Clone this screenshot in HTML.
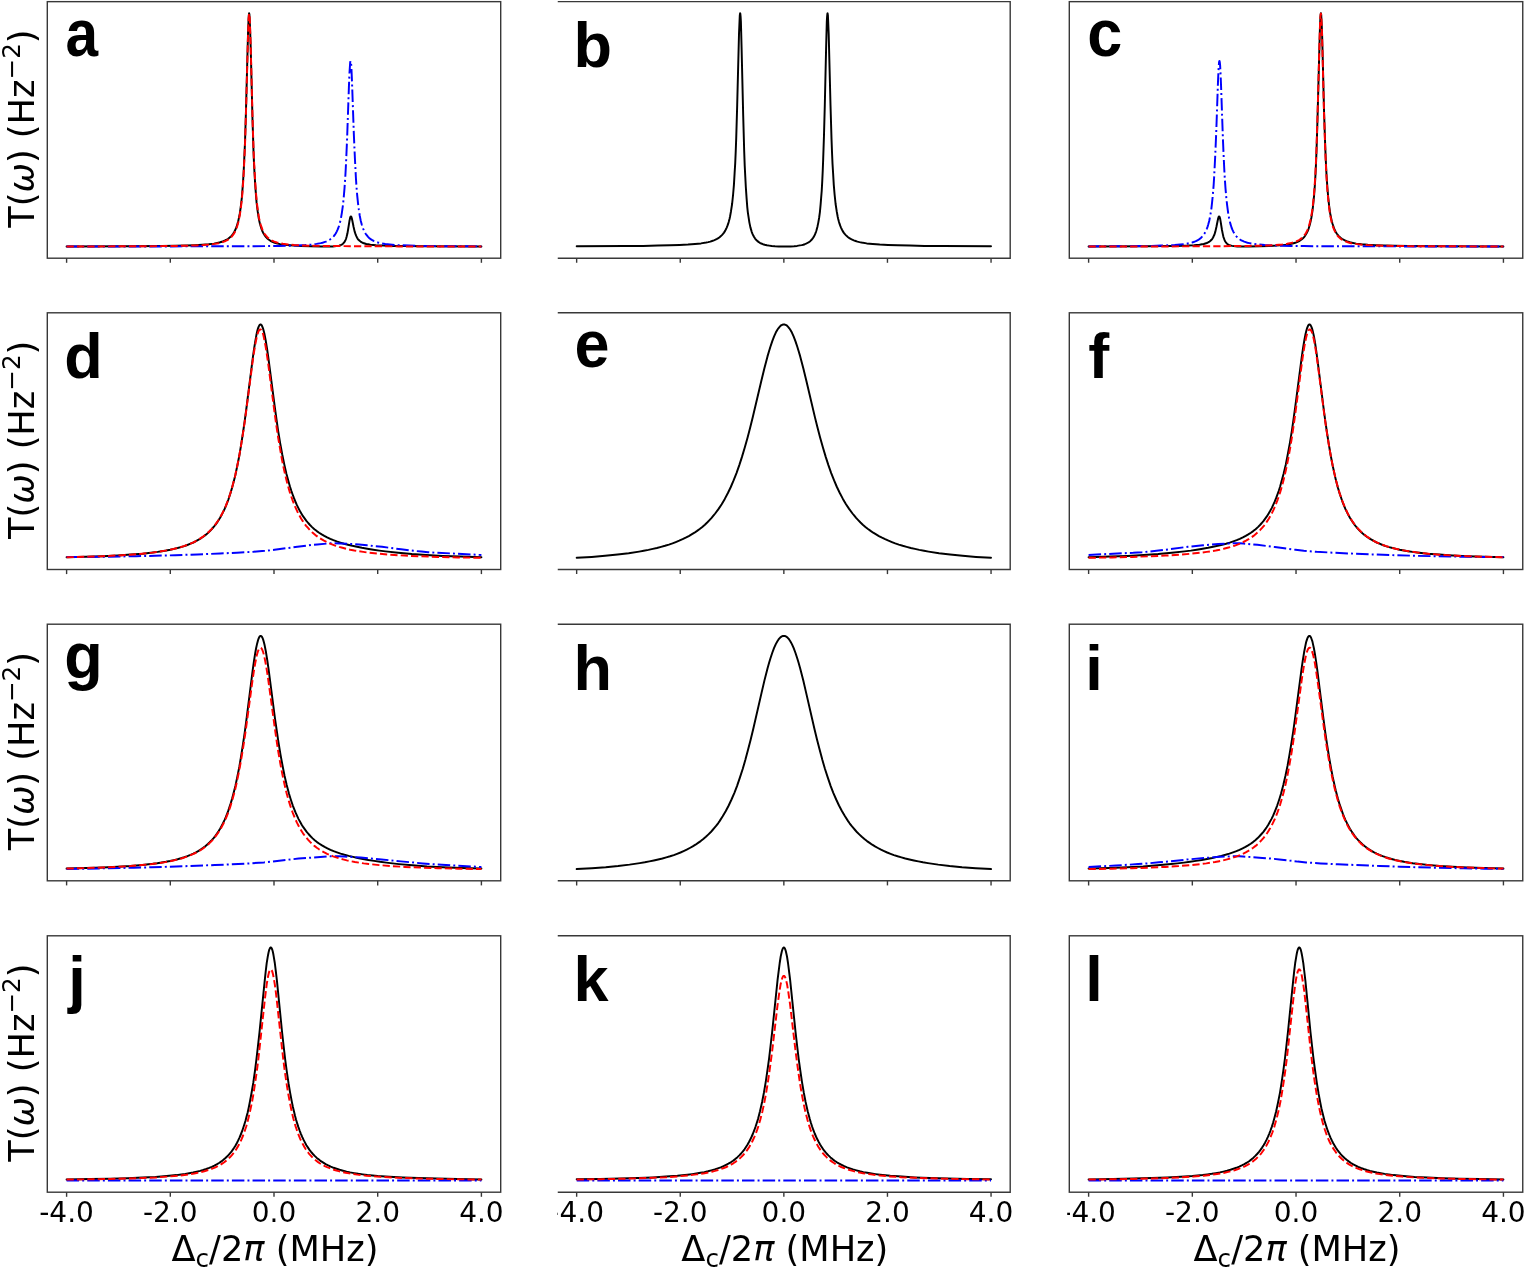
<!DOCTYPE html><html><head><meta charset="utf-8"><style>html,body{margin:0;padding:0;background:#fff;}svg{display:block}</style></head><body>
<svg width="1525" height="1268" viewBox="0 0 1525 1268">
<rect width="100%" height="100%" fill="#fff"/>
<defs>
<clipPath id="cl1"><rect x="557.5" y="0" width="967.5" height="1268"/></clipPath>
<clipPath id="cl2"><rect x="1067.2" y="0" width="457.79999999999995" height="1268"/></clipPath>
</defs>
<g>
<svg x="47.3" y="1.65" width="453.4" height="256.55" viewBox="47.3 1.65 453.4 256.55" overflow="hidden">
<polyline points="66.6,246.4 125.4,246.3 162.0,246.0 175.2,245.8 186.1,245.5 194.9,245.2 202.2,244.8 208.7,244.3 213.9,243.6 218.3,242.7 220.1,242.3 221.9,241.7 223.4,241.2 225.0,240.5 226.6,239.7 227.9,239.0 229.1,238.0 230.2,237.1 231.2,236.1 232.3,234.9 233.3,233.5 234.1,232.2 235.1,230.3 235.9,228.5 236.7,226.4 237.4,224.0 238.2,221.2 238.7,218.9 239.8,213.5 240.8,206.5 241.9,197.1 242.6,187.9 243.4,176.3 243.9,166.8 244.4,155.6 245.0,142.5 246.0,109.8 247.6,49.1 248.1,31.0 248.6,18.3 248.9,14.7 249.1,13.3 249.4,14.2 249.6,17.3 250.1,29.5 250.7,47.5 252.5,119.4 253.5,151.1 254.0,163.6 254.6,174.2 255.1,183.2 255.9,194.1 256.6,202.7 257.7,211.4 258.7,218.0 259.2,220.6 260.0,224.0 260.8,226.7 261.6,229.1 262.3,231.0 263.1,232.7 263.9,234.1 264.9,235.7 266.0,237.1 267.0,238.2 268.6,239.5 270.4,240.8 272.4,241.8 274.8,242.8 277.4,243.5 280.2,244.1 283.6,244.7 287.2,245.1 293.4,245.6 301.0,246.0 310.6,246.3 321.2,246.5 327.9,246.5 332.8,246.4 336.5,246.1 337.8,245.9 339.1,245.6 340.1,245.3 341.1,244.9 342.2,244.3 343.0,243.7 343.7,242.9 344.3,242.3 345.0,241.0 345.6,239.9 346.1,238.5 346.6,236.8 347.4,233.6 348.1,229.5 349.4,221.3 350.0,218.5 350.2,217.5 350.5,216.8 350.7,216.4 351.0,216.4 351.3,216.7 351.5,217.3 351.8,218.2 352.3,220.5 353.6,227.0 354.6,231.4 355.7,234.7 356.2,235.9 357.0,237.5 357.7,238.8 358.5,239.8 359.6,240.8 360.6,241.6 361.9,242.4 363.2,243.0 364.7,243.5 366.3,244.0 368.1,244.3 370.4,244.7 375.9,245.2 383.1,245.6 392.7,245.9 405.7,246.1 423.6,246.2 481.4,246.4" stroke="#000" stroke-width="1.96" fill="none" stroke-linecap="round" stroke-linejoin="round"/>
<polyline points="66.6,246.5 170.8,246.4 229.9,246.3 266.2,246.1 278.9,245.9 289.3,245.7 298.1,245.4 305.4,245.0 311.3,244.5 316.5,243.9 320.7,243.1 322.5,242.7 324.3,242.1 325.9,241.6 327.4,240.9 328.7,240.3 330.0,239.5 331.3,238.5 332.6,237.4 333.6,236.3 334.7,235.0 335.7,233.5 336.7,231.6 337.5,229.9 338.3,228.0 339.1,225.7 339.6,223.9 340.4,220.8 340.9,218.4 341.9,212.6 343.0,204.9 343.7,197.6 344.5,188.4 345.3,176.9 345.8,167.7 346.3,157.2 347.1,138.6 348.9,87.1 349.4,74.3 350.0,65.1 350.2,62.3 350.5,61.0 350.7,61.2 351.0,62.8 351.3,65.8 351.5,70.1 352.0,81.6 353.8,133.1 354.9,158.3 355.9,177.8 356.4,185.6 357.2,195.3 358.0,203.1 358.8,209.4 359.8,216.0 360.8,221.0 361.9,225.0 362.4,226.6 363.2,228.8 364.0,230.6 364.7,232.2 365.5,233.5 366.3,234.7 367.1,235.7 368.1,236.9 368.9,237.7 369.9,238.6 371.0,239.3 372.3,240.1 373.6,240.8 374.8,241.4 376.4,242.0 378.0,242.5 381.3,243.3 385.2,244.0 389.9,244.5 395.3,245.0 401.6,245.3 409.1,245.6 418.4,245.9 443.0,246.2 481.4,246.4" stroke="#00f" stroke-width="1.96" fill="none" stroke-dasharray="12.5 3.1 1.96 3.1" stroke-linejoin="round"/>
<polyline points="66.6,246.5 127.5,246.3 164.1,246.1 177.0,245.9 187.7,245.7 196.2,245.4 203.2,245.1 209.2,244.6 214.4,243.9 218.8,243.2 220.6,242.7 222.4,242.2 224.0,241.6 225.5,241.0 226.8,240.3 228.1,239.6 229.4,238.7 230.4,237.8 231.5,236.8 232.5,235.6 233.6,234.2 234.6,232.5 235.4,230.9 236.1,229.2 236.9,227.1 237.4,225.5 238.2,222.7 238.7,220.5 239.8,215.3 240.8,208.4 241.9,199.2 242.6,190.2 243.4,178.7 243.9,169.3 244.4,158.2 245.0,145.2 246.0,112.6 248.1,32.7 248.6,19.3 248.9,15.3 249.1,13.6 249.4,14.1 249.6,16.8 249.9,21.7 250.1,28.3 250.7,45.7 252.5,116.7 253.5,148.3 254.0,160.9 254.6,171.5 255.1,180.6 255.9,191.7 256.6,200.4 257.7,209.3 258.7,216.0 259.2,218.7 260.0,222.1 260.8,225.0 261.6,227.4 262.3,229.4 263.1,231.2 263.9,232.7 264.9,234.3 266.0,235.7 267.3,237.2 268.3,238.1 269.6,239.1 270.9,240.0 272.2,240.7 273.7,241.4 275.3,242.0 276.9,242.5 278.7,242.9 282.8,243.8 288.0,244.5 294.2,245.0 301.7,245.4 310.3,245.7 320.9,245.9 350.7,246.2 398.4,246.4 481.4,246.5" stroke="#f00" stroke-width="1.96" fill="none" stroke-dasharray="7.25 3.14" stroke-linejoin="round"/>
</svg>
<rect x="47.3" y="1.65" width="453.4" height="256.55" stroke="#383838" stroke-width="1.4" fill="none"/>
<line x1="66.6" y1="258.2" x2="66.6" y2="262.8" stroke="#383838" stroke-width="1.4"/>
<line x1="170.3" y1="258.2" x2="170.3" y2="262.8" stroke="#383838" stroke-width="1.4"/>
<line x1="274" y1="258.2" x2="274" y2="262.8" stroke="#383838" stroke-width="1.4"/>
<line x1="377.7" y1="258.2" x2="377.7" y2="262.8" stroke="#383838" stroke-width="1.4"/>
<line x1="481.4" y1="258.2" x2="481.4" y2="262.8" stroke="#383838" stroke-width="1.4"/>
<text transform="translate(65.44,56.13) scale(0.93,1.06)" font-family="Liberation Sans, Arial, sans-serif" font-weight="bold" font-size="63">a</text>
<text transform="translate(33.9,128.62) rotate(-90)" font-family="DejaVu Sans, sans-serif" font-size="35.2" text-anchor="middle">T(<tspan font-style="italic">ω</tspan>) (Hz<tspan font-size="24.6" dy="-14">−2</tspan><tspan dy="14">)</tspan></text>
</g>
<g clip-path="url(#cl1)">
<svg x="557.5" y="1.65" width="452.7" height="256.55" viewBox="557.5 1.65 452.7 256.55" overflow="hidden">
<polyline points="576.7,246.3 625.3,246.0 643.2,245.9 657.7,245.6 669.9,245.3 679.7,245.0 688.0,244.6 695.0,244.0 701.0,243.4 706.2,242.5 708.2,242.1 710.3,241.6 712.1,241.0 713.9,240.4 715.5,239.7 717.0,238.9 718.3,238.1 719.6,237.2 720.9,236.1 721.9,235.1 723.0,233.9 724.0,232.6 725.1,230.9 725.8,229.5 726.6,227.8 727.4,225.9 728.2,223.7 728.7,222.0 729.5,219.0 730.0,216.7 731.0,211.2 732.1,204.0 733.1,194.5 733.9,185.1 734.6,173.2 735.2,163.5 735.7,152.0 736.2,138.6 737.2,104.9 739.0,34.1 739.6,19.7 739.8,15.4 740.1,13.3 740.3,13.7 740.6,16.6 740.9,21.9 741.1,29.2 741.6,48.5 743.2,115.8 744.2,151.5 744.7,165.4 745.3,177.0 745.8,186.7 746.6,198.4 747.3,207.3 747.8,212.1 748.4,216.2 749.4,222.6 750.4,227.4 751.0,229.4 751.7,231.8 752.5,233.9 753.3,235.6 754.1,237.0 755.1,238.6 756.1,239.8 757.2,240.9 758.5,241.9 759.8,242.8 761.3,243.5 762.9,244.2 764.7,244.7 766.8,245.2 769.1,245.6 771.7,246.0 775.0,246.3 778.7,246.4 782.6,246.5 786.7,246.5 790.6,246.4 794.0,246.2 797.1,245.9 799.9,245.4 801.7,245.1 803.3,244.7 804.8,244.2 806.1,243.7 807.4,243.0 808.5,242.4 809.5,241.7 810.5,240.9 811.6,239.8 812.3,238.9 813.1,237.8 813.9,236.6 814.7,235.0 815.2,233.9 816.0,231.8 816.5,230.3 817.5,226.4 818.3,222.6 819.1,218.0 819.9,212.1 820.6,204.6 821.1,198.4 821.7,191.0 822.2,182.1 822.7,171.5 823.2,158.7 824.0,135.0 824.8,105.3 826.1,48.5 826.6,29.2 826.8,21.9 827.1,16.6 827.4,13.7 827.6,13.3 827.9,15.4 828.1,19.7 828.7,34.1 830.5,104.9 831.5,138.6 832.0,152.0 832.5,163.5 833.1,173.2 833.8,185.1 834.6,194.5 835.6,204.0 836.7,211.2 837.7,216.7 838.2,219.0 839.0,222.0 839.5,223.7 840.3,225.9 841.1,227.8 841.9,229.5 842.6,230.9 843.7,232.6 844.7,233.9 845.8,235.1 846.8,236.1 848.1,237.2 849.4,238.1 850.7,238.9 852.2,239.7 853.8,240.4 855.6,241.0 857.4,241.6 859.5,242.1 861.5,242.5 866.7,243.4 872.7,244.0 879.7,244.6 888.0,245.0 897.8,245.3 910.0,245.6 924.5,245.9 942.4,246.0 991.0,246.3" stroke="#000" stroke-width="1.96" fill="none" stroke-linecap="round" stroke-linejoin="round"/>
</svg>
<path d="M557.5,1.65H1010.2V258.2H557.5" stroke="#383838" stroke-width="1.4" fill="none" stroke-linejoin="miter"/>
<line x1="576.65" y1="258.2" x2="576.65" y2="262.8" stroke="#383838" stroke-width="1.4"/>
<line x1="680.25" y1="258.2" x2="680.25" y2="262.8" stroke="#383838" stroke-width="1.4"/>
<line x1="783.85" y1="258.2" x2="783.85" y2="262.8" stroke="#383838" stroke-width="1.4"/>
<line x1="887.45" y1="258.2" x2="887.45" y2="262.8" stroke="#383838" stroke-width="1.4"/>
<line x1="991.05" y1="258.2" x2="991.05" y2="262.8" stroke="#383838" stroke-width="1.4"/>
<text transform="translate(573.5,67.15) scale(1.0,1.0)" font-family="Liberation Sans, Arial, sans-serif" font-weight="bold" font-size="63">b</text>
</g>
<g clip-path="url(#cl2)">
<svg x="1069.3" y="1.65" width="453.45" height="256.55" viewBox="1069.3 1.65 453.45 256.55" overflow="hidden">
<polyline points="1088.6,246.4 1146.4,246.2 1164.3,246.1 1177.3,245.9 1186.9,245.6 1194.1,245.2 1199.6,244.7 1201.9,244.3 1203.7,244.0 1205.3,243.5 1206.8,243.0 1208.1,242.4 1209.4,241.6 1210.5,240.8 1211.5,239.8 1212.3,238.8 1213.1,237.5 1213.8,235.9 1214.4,234.7 1215.4,231.4 1216.4,227.0 1217.7,220.5 1218.2,218.2 1218.5,217.3 1218.8,216.7 1219.0,216.4 1219.3,216.4 1219.5,216.8 1219.8,217.5 1220.1,218.5 1220.6,221.3 1221.9,229.5 1222.7,233.6 1223.4,236.8 1224.0,238.5 1224.5,239.9 1225.0,241.0 1225.8,242.3 1226.3,242.9 1227.1,243.7 1227.8,244.3 1228.9,244.9 1229.9,245.3 1231.0,245.6 1232.2,245.9 1233.5,246.1 1237.2,246.4 1242.1,246.5 1248.8,246.5 1259.5,246.3 1269.1,246.0 1276.6,245.6 1282.8,245.1 1286.4,244.7 1289.8,244.1 1292.7,243.5 1295.2,242.8 1297.6,241.8 1299.7,240.8 1301.5,239.5 1303.0,238.2 1304.1,237.1 1305.1,235.7 1306.1,234.1 1306.9,232.7 1307.7,231.0 1308.5,229.1 1309.2,226.7 1310.0,224.0 1310.8,220.6 1311.3,218.0 1312.4,211.4 1313.4,202.7 1314.2,194.1 1315.0,183.2 1315.5,174.2 1316.0,163.6 1316.5,151.1 1317.5,119.4 1319.4,47.5 1319.9,29.5 1320.4,17.3 1320.7,14.2 1320.9,13.3 1321.2,14.7 1321.4,18.3 1322.0,31.0 1322.5,49.1 1324.0,109.8 1325.1,142.5 1325.6,155.6 1326.1,166.8 1326.6,176.3 1327.4,187.9 1328.2,197.1 1329.2,206.5 1330.2,213.5 1331.3,218.9 1331.8,221.2 1332.6,224.0 1333.4,226.4 1334.1,228.5 1334.9,230.3 1335.9,232.2 1336.7,233.5 1337.8,234.9 1338.8,236.1 1339.8,237.1 1340.9,238.0 1342.2,239.0 1343.5,239.7 1345.0,240.5 1346.6,241.2 1348.1,241.7 1349.9,242.3 1351.8,242.7 1356.2,243.6 1361.4,244.3 1367.8,244.8 1375.1,245.2 1383.9,245.5 1394.8,245.8 1408.0,246.0 1444.6,246.3 1503.4,246.4" stroke="#000" stroke-width="1.96" fill="none" stroke-linecap="round" stroke-linejoin="round"/>
<polyline points="1088.6,246.4 1127.0,246.2 1151.6,245.9 1161.0,245.6 1168.5,245.3 1174.7,245.0 1180.1,244.5 1184.8,244.0 1188.7,243.3 1192.1,242.5 1193.6,242.0 1195.2,241.4 1196.5,240.8 1197.8,240.1 1199.1,239.3 1200.1,238.6 1201.1,237.7 1201.9,236.9 1203.0,235.7 1203.7,234.7 1204.5,233.5 1205.3,232.2 1206.1,230.6 1206.8,228.8 1207.6,226.6 1208.1,225.0 1209.2,221.0 1210.2,216.0 1211.3,209.4 1212.0,203.1 1212.8,195.3 1213.6,185.6 1214.1,177.8 1215.1,158.3 1216.2,133.1 1218.0,81.6 1218.5,70.1 1218.8,65.8 1219.0,62.8 1219.3,61.2 1219.5,61.0 1219.8,62.3 1220.1,65.1 1220.6,74.3 1221.1,87.1 1222.9,138.6 1223.7,157.2 1224.2,167.7 1224.7,176.9 1225.5,188.4 1226.3,197.6 1227.1,204.9 1228.1,212.6 1229.1,218.4 1229.7,220.8 1230.4,223.9 1231.0,225.7 1231.7,228.0 1232.5,229.9 1233.3,231.6 1234.3,233.5 1235.4,235.0 1236.4,236.3 1237.4,237.4 1238.7,238.5 1240.0,239.5 1241.3,240.3 1242.6,240.9 1244.2,241.6 1245.7,242.1 1247.5,242.7 1249.4,243.1 1253.5,243.9 1258.7,244.5 1264.7,245.0 1271.9,245.4 1280.7,245.7 1291.1,245.9 1303.8,246.1 1340.1,246.3 1399.2,246.4 1503.4,246.5" stroke="#00f" stroke-width="1.96" fill="none" stroke-dasharray="12.5 3.1 1.96 3.1" stroke-linejoin="round"/>
<polyline points="1088.6,246.5 1171.6,246.4 1219.3,246.2 1249.1,245.9 1259.7,245.7 1268.3,245.4 1275.8,245.0 1282.0,244.5 1287.2,243.8 1291.4,242.9 1293.2,242.5 1294.7,242.0 1296.3,241.4 1297.8,240.7 1299.1,240.0 1300.4,239.1 1301.7,238.1 1302.8,237.2 1304.1,235.7 1305.1,234.3 1306.1,232.7 1306.9,231.2 1307.7,229.4 1308.5,227.4 1309.2,225.0 1310.0,222.1 1310.8,218.7 1311.3,216.0 1312.4,209.3 1313.4,200.4 1314.2,191.7 1315.0,180.6 1315.5,171.5 1316.0,160.9 1316.5,148.3 1317.5,116.7 1319.4,45.7 1319.9,28.3 1320.1,21.7 1320.4,16.8 1320.7,14.1 1320.9,13.6 1321.2,15.3 1321.4,19.3 1322.0,32.7 1324.0,112.6 1325.1,145.2 1325.6,158.2 1326.1,169.3 1326.6,178.7 1327.4,190.2 1328.2,199.2 1329.2,208.4 1330.2,215.3 1331.3,220.5 1331.8,222.7 1332.6,225.5 1333.1,227.1 1333.9,229.2 1334.7,230.9 1335.4,232.5 1336.5,234.2 1337.5,235.6 1338.5,236.8 1339.6,237.8 1340.6,238.7 1341.9,239.6 1343.2,240.3 1344.5,241.0 1346.1,241.6 1347.6,242.2 1349.4,242.7 1351.2,243.2 1355.7,243.9 1360.8,244.6 1366.8,245.1 1373.8,245.4 1382.4,245.7 1393.0,245.9 1405.9,246.1 1442.5,246.3 1503.4,246.5" stroke="#f00" stroke-width="1.96" fill="none" stroke-dasharray="7.25 3.14" stroke-linejoin="round"/>
</svg>
<rect x="1069.3" y="1.65" width="453.45" height="256.55" stroke="#383838" stroke-width="1.4" fill="none"/>
<line x1="1088.62" y1="258.2" x2="1088.62" y2="262.8" stroke="#383838" stroke-width="1.4"/>
<line x1="1192.33" y1="258.2" x2="1192.33" y2="262.8" stroke="#383838" stroke-width="1.4"/>
<line x1="1296.03" y1="258.2" x2="1296.03" y2="262.8" stroke="#383838" stroke-width="1.4"/>
<line x1="1399.73" y1="258.2" x2="1399.73" y2="262.8" stroke="#383838" stroke-width="1.4"/>
<line x1="1503.43" y1="258.2" x2="1503.43" y2="262.8" stroke="#383838" stroke-width="1.4"/>
<text transform="translate(1087.3,56.13) scale(1.0,1.06)" font-family="Liberation Sans, Arial, sans-serif" font-weight="bold" font-size="63">c</text>
</g>
<g>
<svg x="47.3" y="312.8" width="453.4" height="256.7" viewBox="47.3 312.8 453.4 256.7" overflow="hidden">
<polyline points="66.6,557.3 86.0,556.8 102.9,556.2 117.7,555.5 130.9,554.6 142.6,553.7 152.9,552.5 157.6,551.9 162.0,551.2 166.2,550.5 170.3,549.7 173.9,548.9 177.6,548.0 180.9,547.1 184.3,546.1 187.4,545.0 190.5,543.7 193.4,542.5 196.0,541.2 198.6,539.7 200.9,538.3 203.2,536.7 205.6,534.9 207.6,533.2 209.7,531.3 211.8,529.1 213.6,527.0 215.4,524.8 217.0,522.6 218.5,520.3 220.1,517.7 221.6,515.0 222.9,512.4 224.5,509.2 225.8,506.2 227.1,502.9 228.4,499.5 230.7,492.4 232.0,488.0 233.0,484.3 234.3,479.2 235.4,474.9 237.4,465.3 239.3,455.8 241.3,443.7 243.1,432.0 244.7,421.1 246.5,407.5 252.5,360.1 253.8,350.7 255.1,342.3 255.9,337.8 256.6,333.9 257.4,330.6 257.9,328.7 258.7,326.6 259.2,325.6 259.7,324.9 260.0,324.6 260.3,324.5 260.5,324.5 260.8,324.5 261.0,324.6 261.3,324.9 261.8,325.5 262.3,326.6 263.1,328.7 263.6,330.5 264.4,333.8 265.7,340.5 267.0,348.5 268.3,357.5 274.8,407.2 276.6,420.2 278.1,430.7 280.2,443.4 282.3,454.8 284.4,464.9 286.4,473.8 288.8,482.6 290.1,487.0 291.4,491.0 292.7,494.7 294.0,498.2 295.3,501.4 296.8,504.9 298.4,508.1 299.9,511.0 301.5,513.7 303.0,516.2 304.6,518.4 306.4,520.8 308.2,523.0 310.0,525.0 312.1,527.1 314.4,529.2 316.8,531.1 319.1,532.7 321.7,534.4 324.3,535.9 327.1,537.4 330.3,538.9 333.4,540.2 336.7,541.4 340.4,542.6 344.0,543.7 347.9,544.7 352.3,545.8 357.0,546.8 361.9,547.8 367.3,548.7 373.3,549.7 379.3,550.6 385.5,551.4 398.2,552.8 411.9,554.1 426.4,555.1 442.5,555.9 460.7,556.6 481.4,557.2" stroke="#000" stroke-width="1.96" fill="none" stroke-linecap="round" stroke-linejoin="round"/>
<polyline points="66.6,557.1 86.3,557.0 108.1,556.7 136.3,556.2 154.7,555.8 175.2,555.2 197.5,554.4 220.1,553.5 236.9,552.7 253.5,551.8 262.1,551.1 266.2,550.8 274.5,549.8 295.3,547.0 312.6,544.8 317.3,544.4 326.6,543.6 330.5,543.3 333.9,543.3 340.4,543.4 351.8,544.0 359.0,544.6 367.1,545.3 382.1,546.8 401.0,549.3 413.5,550.8 421.5,551.6 428.0,552.2 436.8,552.8 457.0,553.7 481.4,555.0" stroke="#00f" stroke-width="1.96" fill="none" stroke-dasharray="12.5 3.1 1.96 3.1" stroke-linejoin="round"/>
<polyline points="66.6,557.3 85.8,556.8 102.6,556.2 117.4,555.5 130.4,554.7 141.8,553.7 152.2,552.6 161.2,551.3 165.4,550.6 169.5,549.8 173.4,549.0 177.0,548.1 180.4,547.2 183.8,546.1 186.9,545.0 190.0,543.8 192.9,542.6 195.4,541.3 198.0,539.9 200.4,538.4 202.7,536.9 205.0,535.1 207.1,533.4 209.2,531.5 211.3,529.4 213.1,527.4 214.9,525.1 216.4,523.0 218.0,520.8 219.6,518.3 221.1,515.6 222.4,513.2 224.0,510.0 225.3,507.1 226.6,504.0 227.9,500.6 230.2,493.8 231.5,489.6 232.5,486.0 233.8,481.1 234.9,476.9 236.9,467.7 238.7,458.7 240.8,447.1 242.6,435.8 244.2,425.4 246.0,412.3 252.5,362.5 253.8,353.4 255.1,345.4 256.4,338.7 257.1,335.4 257.7,333.6 258.4,331.5 259.0,330.5 259.5,329.8 259.7,329.6 260.0,329.4 260.3,329.4 260.5,329.4 260.8,329.5 261.0,329.8 261.6,330.4 262.1,331.4 262.9,333.5 263.4,335.3 264.1,338.6 265.4,345.2 266.7,353.2 268.0,362.2 274.5,412.1 276.3,425.2 278.1,437.3 280.0,448.4 282.0,459.9 284.1,470.0 286.2,478.9 287.2,483.0 288.5,487.7 289.8,492.1 291.1,496.1 292.4,499.8 293.7,503.2 295.0,506.4 296.6,509.9 298.1,513.1 299.7,516.0 301.2,518.7 302.8,521.1 304.3,523.4 306.1,525.8 308.0,527.9 310.0,530.2 312.1,532.2 314.2,534.0 316.5,535.9 318.9,537.6 321.4,539.2 324.0,540.7 326.6,542.0 329.5,543.4 332.6,544.6 335.7,545.8 339.1,546.9 342.4,547.8 346.3,548.8 350.2,549.7 354.4,550.5 358.8,551.2 363.2,551.9 368.1,552.6 378.7,553.7 390.7,554.7 404.4,555.6 420.0,556.3 437.6,556.9 457.8,557.4 481.4,557.8" stroke="#f00" stroke-width="1.96" fill="none" stroke-dasharray="7.25 3.14" stroke-linejoin="round"/>
</svg>
<rect x="47.3" y="312.8" width="453.4" height="256.7" stroke="#383838" stroke-width="1.4" fill="none"/>
<line x1="66.6" y1="569.5" x2="66.6" y2="574.1" stroke="#383838" stroke-width="1.4"/>
<line x1="170.3" y1="569.5" x2="170.3" y2="574.1" stroke="#383838" stroke-width="1.4"/>
<line x1="274" y1="569.5" x2="274" y2="574.1" stroke="#383838" stroke-width="1.4"/>
<line x1="377.7" y1="569.5" x2="377.7" y2="574.1" stroke="#383838" stroke-width="1.4"/>
<line x1="481.4" y1="569.5" x2="481.4" y2="574.1" stroke="#383838" stroke-width="1.4"/>
<text transform="translate(64.3,378.3) scale(1.0,1.0)" font-family="Liberation Sans, Arial, sans-serif" font-weight="bold" font-size="63">d</text>
<text transform="translate(33.9,439.85) rotate(-90)" font-family="DejaVu Sans, sans-serif" font-size="35.2" text-anchor="middle">T(<tspan font-style="italic">ω</tspan>) (Hz<tspan font-size="24.6" dy="-14">−2</tspan><tspan dy="14">)</tspan></text>
</g>
<g clip-path="url(#cl1)">
<svg x="557.5" y="312.8" width="452.7" height="256.7" viewBox="557.5 312.8 452.7 256.7" overflow="hidden">
<polyline points="576.7,557.8 591.7,556.9 605.1,555.8 617.6,554.5 628.7,553.2 639.1,551.6 643.7,550.8 648.4,549.9 652.8,548.9 656.9,548.0 661.1,546.9 665.0,545.8 668.9,544.6 672.5,543.4 675.8,542.1 679.2,540.7 682.6,539.2 685.7,537.7 688.8,536.1 691.6,534.4 694.5,532.7 697.1,530.9 699.7,529.0 702.3,526.9 704.9,524.7 707.2,522.5 709.5,520.1 711.6,517.9 713.4,515.7 715.2,513.5 718.6,508.9 721.7,504.2 724.8,498.9 727.9,493.0 730.8,487.0 733.6,480.4 736.5,473.1 739.3,465.1 741.9,457.1 744.7,447.7 747.6,437.4 750.2,427.5 752.8,417.1 761.3,381.0 764.4,368.3 767.5,356.4 769.1,351.0 770.4,346.8 772.2,341.4 774.0,336.7 775.8,332.6 777.4,329.8 778.4,328.3 779.2,327.3 780.0,326.4 780.7,325.7 781.5,325.2 782.3,324.8 783.1,324.5 783.9,324.5 784.6,324.5 785.4,324.8 786.2,325.2 787.0,325.7 787.7,326.4 788.5,327.3 789.3,328.3 790.3,329.8 791.9,332.6 793.7,336.7 795.5,341.4 797.3,346.8 798.6,351.0 800.2,356.4 803.3,368.3 806.4,381.0 814.9,417.1 817.5,427.5 820.1,437.4 823.0,447.7 825.8,457.1 828.4,465.1 831.2,473.1 834.1,480.4 836.9,487.0 839.8,493.0 842.9,498.9 846.0,504.2 849.1,508.9 852.5,513.5 854.3,515.7 856.1,517.9 858.2,520.1 860.5,522.5 862.8,524.7 865.4,526.9 868.0,529.0 870.6,530.9 873.2,532.7 876.1,534.4 878.9,536.1 882.0,537.7 885.1,539.2 888.5,540.7 891.9,542.1 895.2,543.4 898.8,544.6 902.7,545.8 906.6,546.9 910.8,548.0 914.9,548.9 919.3,549.9 924.0,550.8 928.6,551.6 939.0,553.2 950.1,554.5 962.6,555.8 976.0,556.9 991.0,557.8" stroke="#000" stroke-width="1.96" fill="none" stroke-linecap="round" stroke-linejoin="round"/>
</svg>
<path d="M557.5,312.8H1010.2V569.5H557.5" stroke="#383838" stroke-width="1.4" fill="none" stroke-linejoin="miter"/>
<line x1="576.65" y1="569.5" x2="576.65" y2="574.1" stroke="#383838" stroke-width="1.4"/>
<line x1="680.25" y1="569.5" x2="680.25" y2="574.1" stroke="#383838" stroke-width="1.4"/>
<line x1="783.85" y1="569.5" x2="783.85" y2="574.1" stroke="#383838" stroke-width="1.4"/>
<line x1="887.45" y1="569.5" x2="887.45" y2="574.1" stroke="#383838" stroke-width="1.4"/>
<line x1="991.05" y1="569.5" x2="991.05" y2="574.1" stroke="#383838" stroke-width="1.4"/>
<text transform="translate(574.5,367.28) scale(1.0,1.06)" font-family="Liberation Sans, Arial, sans-serif" font-weight="bold" font-size="63">e</text>
</g>
<g clip-path="url(#cl2)">
<svg x="1069.3" y="312.8" width="453.45" height="256.7" viewBox="1069.3 312.8 453.45 256.7" overflow="hidden">
<polyline points="1088.6,557.2 1109.4,556.6 1127.5,555.9 1143.6,555.1 1158.1,554.1 1171.8,552.8 1184.5,551.4 1190.8,550.6 1196.7,549.7 1202.7,548.7 1208.1,547.8 1213.1,546.8 1217.7,545.8 1222.1,544.7 1226.0,543.7 1229.7,542.6 1233.3,541.4 1236.7,540.2 1239.8,538.9 1242.9,537.4 1245.7,535.9 1248.3,534.4 1250.9,532.7 1253.2,531.1 1255.6,529.2 1257.9,527.1 1260.0,525.0 1261.8,523.0 1263.6,520.8 1265.4,518.4 1267.0,516.2 1268.5,513.7 1270.1,511.0 1271.7,508.1 1273.2,504.9 1274.8,501.4 1276.1,498.2 1277.4,494.7 1278.7,491.0 1280.0,487.0 1281.2,482.6 1283.6,473.8 1285.7,464.9 1287.7,454.8 1289.8,443.4 1291.9,430.7 1293.4,420.2 1295.2,407.2 1301.7,357.5 1303.0,348.5 1304.3,340.5 1305.6,333.8 1306.4,330.5 1306.9,328.7 1307.7,326.6 1308.2,325.5 1308.7,324.9 1309.0,324.6 1309.2,324.5 1309.5,324.5 1309.8,324.5 1310.0,324.6 1310.3,324.9 1310.8,325.6 1311.3,326.6 1312.1,328.7 1312.6,330.6 1313.4,333.9 1314.2,337.8 1315.0,342.3 1316.2,350.7 1317.5,360.1 1323.5,407.5 1325.3,421.1 1326.9,432.0 1328.7,443.7 1330.8,455.8 1332.6,465.3 1334.7,474.9 1335.7,479.2 1337.0,484.3 1338.0,488.0 1339.3,492.4 1341.7,499.5 1342.9,502.9 1344.2,506.2 1345.5,509.2 1347.1,512.4 1348.4,515.0 1349.9,517.7 1351.5,520.3 1353.1,522.6 1354.6,524.8 1356.4,527.0 1358.2,529.1 1360.3,531.3 1362.4,533.2 1364.5,534.9 1366.8,536.7 1369.1,538.3 1371.5,539.7 1374.1,541.2 1376.7,542.5 1379.5,543.7 1382.6,545.0 1385.7,546.1 1389.1,547.1 1392.5,548.0 1396.1,548.9 1399.7,549.7 1403.9,550.5 1408.0,551.2 1412.4,551.9 1417.1,552.5 1427.5,553.7 1439.1,554.6 1452.4,555.5 1467.1,556.2 1484.0,556.8 1503.4,557.3" stroke="#000" stroke-width="1.96" fill="none" stroke-linecap="round" stroke-linejoin="round"/>
<polyline points="1088.6,555.0 1113.0,553.7 1133.2,552.8 1142.0,552.2 1148.5,551.6 1156.5,550.8 1169.0,549.3 1187.9,546.8 1203.0,545.3 1211.0,544.6 1218.2,544.0 1229.7,543.4 1236.1,543.3 1239.5,543.3 1243.4,543.6 1252.7,544.4 1257.4,544.8 1274.8,547.0 1295.5,549.8 1303.8,550.8 1308.0,551.1 1316.5,551.8 1333.1,552.7 1349.9,553.5 1372.5,554.4 1394.8,555.2 1415.3,555.8 1433.7,556.2 1461.9,556.7 1483.7,557.0 1503.4,557.1" stroke="#00f" stroke-width="1.96" fill="none" stroke-dasharray="12.5 3.1 1.96 3.1" stroke-linejoin="round"/>
<polyline points="1088.6,557.8 1112.2,557.4 1132.4,556.9 1150.1,556.3 1165.6,555.6 1179.4,554.7 1191.3,553.7 1201.9,552.6 1206.8,551.9 1211.3,551.2 1215.7,550.5 1219.8,549.7 1223.7,548.8 1227.6,547.8 1231.0,546.9 1234.3,545.8 1237.4,544.6 1240.5,543.4 1243.4,542.0 1246.0,540.7 1248.6,539.2 1251.2,537.6 1253.5,535.9 1255.8,534.0 1257.9,532.2 1260.0,530.2 1262.1,527.9 1263.9,525.8 1265.7,523.4 1267.2,521.1 1268.8,518.7 1270.4,516.0 1271.9,513.1 1273.5,509.9 1275.0,506.4 1276.3,503.2 1277.6,499.8 1278.9,496.1 1280.2,492.1 1281.5,487.7 1282.8,483.0 1283.8,478.9 1285.9,470.0 1288.0,459.9 1290.1,448.4 1291.9,437.3 1293.7,425.2 1295.5,412.1 1302.0,362.2 1303.3,353.2 1304.6,345.2 1305.9,338.6 1306.7,335.3 1307.2,333.5 1308.0,331.4 1308.5,330.4 1309.0,329.8 1309.2,329.5 1309.5,329.4 1309.8,329.4 1310.0,329.4 1310.3,329.6 1310.5,329.8 1311.1,330.5 1311.6,331.5 1312.4,333.6 1312.9,335.4 1313.7,338.7 1315.0,345.4 1316.2,353.4 1317.5,362.5 1324.0,412.3 1325.8,425.4 1327.4,435.8 1329.2,447.1 1331.3,458.7 1333.1,467.7 1335.2,476.9 1336.2,481.1 1337.5,486.0 1338.5,489.6 1339.8,493.8 1342.2,500.6 1343.5,504.0 1344.8,507.1 1346.1,510.0 1347.6,513.2 1348.9,515.6 1350.5,518.3 1352.0,520.8 1353.6,523.0 1355.1,525.1 1356.9,527.4 1358.8,529.4 1360.8,531.5 1362.9,533.4 1365.0,535.1 1367.3,536.9 1369.7,538.4 1372.0,539.9 1374.6,541.3 1377.2,542.6 1380.0,543.8 1383.1,545.0 1386.2,546.1 1389.6,547.2 1393.0,548.1 1396.6,549.0 1400.5,549.8 1404.7,550.6 1408.8,551.3 1417.9,552.6 1428.2,553.7 1439.6,554.7 1452.6,555.5 1467.4,556.2 1484.2,556.8 1503.4,557.3" stroke="#f00" stroke-width="1.96" fill="none" stroke-dasharray="7.25 3.14" stroke-linejoin="round"/>
</svg>
<rect x="1069.3" y="312.8" width="453.45" height="256.7" stroke="#383838" stroke-width="1.4" fill="none"/>
<line x1="1088.62" y1="569.5" x2="1088.62" y2="574.1" stroke="#383838" stroke-width="1.4"/>
<line x1="1192.33" y1="569.5" x2="1192.33" y2="574.1" stroke="#383838" stroke-width="1.4"/>
<line x1="1296.03" y1="569.5" x2="1296.03" y2="574.1" stroke="#383838" stroke-width="1.4"/>
<line x1="1399.73" y1="569.5" x2="1399.73" y2="574.1" stroke="#383838" stroke-width="1.4"/>
<line x1="1503.43" y1="569.5" x2="1503.43" y2="574.1" stroke="#383838" stroke-width="1.4"/>
<text transform="translate(1088.3,378.3) scale(1.0,1.0)" font-family="Liberation Sans, Arial, sans-serif" font-weight="bold" font-size="63">f</text>
</g>
<g>
<svg x="47.3" y="624.2" width="453.4" height="256.6" viewBox="47.3 624.2 453.4 256.6" overflow="hidden">
<polyline points="66.6,868.6 86.0,868.0 102.9,867.4 117.7,866.7 130.6,865.9 142.3,864.9 152.7,863.8 157.3,863.2 161.7,862.5 165.9,861.8 170.0,861.0 173.9,860.1 177.6,859.2 180.9,858.3 184.3,857.2 187.4,856.1 190.5,854.9 193.4,853.6 196.0,852.3 198.6,850.8 200.9,849.4 203.2,847.8 205.6,846.0 207.6,844.2 209.7,842.3 211.8,840.1 213.6,838.1 215.4,835.8 217.0,833.6 218.5,831.3 220.1,828.7 221.6,825.9 222.9,823.4 224.5,820.1 225.8,817.2 227.1,813.9 228.4,810.4 230.7,803.4 232.0,799.1 233.0,795.3 234.3,790.3 235.4,785.9 237.4,776.4 239.3,767.0 241.3,755.0 243.1,743.4 244.7,732.6 246.5,719.1 252.7,670.2 254.0,660.9 255.3,652.7 256.1,648.3 256.9,644.6 257.7,641.4 258.2,639.7 259.0,637.7 259.5,636.7 260.0,636.1 260.3,636.0 260.5,635.9 260.8,635.9 261.3,636.1 261.6,636.4 262.1,637.1 262.6,638.2 263.4,640.4 263.9,642.3 264.7,645.6 266.0,652.3 267.3,660.4 268.6,669.4 275.0,718.7 276.9,731.6 278.4,742.0 280.5,754.6 282.6,766.0 284.6,776.0 286.7,784.9 289.0,793.7 290.3,798.0 291.6,802.0 292.9,805.8 294.2,809.2 295.5,812.4 297.1,815.9 298.6,819.1 300.2,822.0 301.7,824.7 303.3,827.2 304.9,829.4 306.7,831.8 308.5,834.0 310.3,836.0 312.4,838.1 314.7,840.2 317.0,842.1 319.4,843.7 322.0,845.4 324.6,846.9 327.4,848.4 330.5,849.9 333.6,851.2 337.0,852.4 340.6,853.6 344.5,854.8 348.7,855.9 353.1,856.9 357.7,858.0 362.9,859.0 368.4,860.0 374.1,860.9 380.0,861.8 386.3,862.6 392.5,863.4 399.0,864.1 412.4,865.3 427.0,866.4 442.8,867.2 460.9,867.9 481.4,868.5" stroke="#000" stroke-width="1.96" fill="none" stroke-linecap="round" stroke-linejoin="round"/>
<polyline points="66.6,868.9 85.8,868.7 106.8,868.3 133.7,867.7 151.1,867.3 170.0,866.7 190.3,866.0 214.9,865.0 232.3,864.3 249.4,863.4 263.9,862.4 272.2,861.6 290.6,859.4 298.6,858.6 307.7,857.9 327.1,856.5 330.8,856.3 333.9,856.3 338.6,856.3 344.0,856.5 353.3,857.0 360.8,857.6 381.6,859.4 400.8,861.4 411.1,862.3 422.6,863.4 431.9,864.1 453.9,865.5 481.4,867.0" stroke="#00f" stroke-width="1.96" fill="none" stroke-dasharray="12.5 3.1 1.96 3.1" stroke-linejoin="round"/>
<polyline points="66.6,868.6 85.8,868.1 102.6,867.6 117.4,866.9 130.4,866.1 141.8,865.1 152.2,864.0 161.2,862.8 165.4,862.1 169.5,861.3 173.4,860.5 177.0,859.6 180.4,858.7 183.8,857.7 186.9,856.6 190.0,855.4 192.9,854.2 195.4,853.0 198.0,851.6 200.4,850.2 202.7,848.7 205.0,847.0 207.1,845.3 209.2,843.4 211.3,841.4 213.1,839.4 214.9,837.2 216.4,835.2 218.0,833.0 219.6,830.6 221.1,828.0 222.4,825.6 224.0,822.5 225.3,819.7 226.6,816.7 227.9,813.4 230.2,806.9 232.5,799.3 234.9,790.6 236.9,781.7 238.7,773.0 240.8,761.8 242.6,751.0 244.2,740.9 246.0,728.4 252.5,680.4 253.8,671.6 255.1,663.8 255.9,659.7 256.6,656.1 257.4,653.1 257.9,651.4 258.7,649.5 259.2,648.6 259.7,648.0 260.0,647.8 260.3,647.7 260.5,647.7 261.0,647.9 261.3,648.2 261.8,648.9 262.3,649.9 263.1,652.0 263.6,653.8 264.4,657.0 265.7,663.5 267.0,671.3 268.3,680.0 274.8,727.9 276.6,740.5 278.1,750.6 280.2,762.9 282.3,774.0 284.4,783.8 286.4,792.4 288.8,800.9 290.1,805.1 291.4,809.0 292.7,812.6 294.0,815.9 295.3,819.0 296.8,822.4 298.4,825.5 299.9,828.3 301.5,830.9 303.0,833.3 304.6,835.5 306.4,837.8 308.2,839.9 310.3,842.1 312.4,844.1 314.4,845.9 316.8,847.7 319.1,849.3 321.7,850.9 324.3,852.4 327.1,853.8 330.0,855.1 333.1,856.3 336.2,857.4 339.6,858.5 343.0,859.4 346.8,860.4 350.7,861.2 354.9,862.0 359.3,862.7 363.7,863.4 368.6,864.0 379.3,865.1 391.2,866.1 404.9,866.9 420.2,867.6 437.8,868.2 458.1,868.7 481.4,869.1" stroke="#f00" stroke-width="1.96" fill="none" stroke-dasharray="7.25 3.14" stroke-linejoin="round"/>
</svg>
<rect x="47.3" y="624.2" width="453.4" height="256.6" stroke="#383838" stroke-width="1.4" fill="none"/>
<line x1="66.6" y1="880.8" x2="66.6" y2="885.4" stroke="#383838" stroke-width="1.4"/>
<line x1="170.3" y1="880.8" x2="170.3" y2="885.4" stroke="#383838" stroke-width="1.4"/>
<line x1="274" y1="880.8" x2="274" y2="885.4" stroke="#383838" stroke-width="1.4"/>
<line x1="377.7" y1="880.8" x2="377.7" y2="885.4" stroke="#383838" stroke-width="1.4"/>
<line x1="481.4" y1="880.8" x2="481.4" y2="885.4" stroke="#383838" stroke-width="1.4"/>
<text transform="translate(64.3,678.02) scale(1.0,1.04)" font-family="Liberation Sans, Arial, sans-serif" font-weight="bold" font-size="63">g</text>
<text transform="translate(33.9,751.2) rotate(-90)" font-family="DejaVu Sans, sans-serif" font-size="35.2" text-anchor="middle">T(<tspan font-style="italic">ω</tspan>) (Hz<tspan font-size="24.6" dy="-14">−2</tspan><tspan dy="14">)</tspan></text>
</g>
<g clip-path="url(#cl1)">
<svg x="557.5" y="624.2" width="452.7" height="256.6" viewBox="557.5 624.2 452.7 256.6" overflow="hidden">
<polyline points="576.7,869.1 591.9,868.2 605.7,867.2 618.1,866.0 629.5,864.6 639.8,863.1 644.8,862.3 649.4,861.4 653.8,860.5 658.2,859.5 662.4,858.5 666.3,857.4 670.1,856.3 673.8,855.1 677.1,853.8 680.5,852.5 683.6,851.1 686.7,849.7 689.8,848.0 692.7,846.4 695.5,844.7 698.1,842.9 700.7,841.1 703.3,839.0 705.9,836.8 708.2,834.6 710.6,832.3 712.6,830.0 714.4,827.9 716.3,825.7 718.1,823.3 719.6,821.1 722.7,816.3 725.8,811.0 728.7,805.5 731.5,799.5 734.4,792.8 737.0,786.1 739.8,777.9 742.7,769.0 745.3,760.1 748.1,749.6 750.7,739.4 753.3,728.7 761.6,692.6 764.4,680.6 767.5,668.4 769.1,662.8 770.4,658.5 772.2,653.0 774.0,648.2 775.8,644.1 777.4,641.2 778.4,639.7 779.2,638.7 780.0,637.8 780.7,637.1 781.5,636.6 782.3,636.2 783.1,635.9 783.9,635.9 784.6,635.9 785.4,636.2 786.2,636.6 787.0,637.1 787.7,637.8 788.5,638.7 789.3,639.7 790.3,641.2 791.9,644.1 793.7,648.2 795.5,653.0 797.3,658.5 798.6,662.8 800.2,668.4 803.3,680.6 806.1,692.6 814.4,728.7 817.0,739.4 819.6,749.6 822.4,760.1 825.0,769.0 827.9,777.9 830.7,786.1 833.3,792.8 836.2,799.5 839.0,805.5 841.9,811.0 845.0,816.3 848.1,821.1 849.6,823.3 851.4,825.7 853.3,827.9 855.1,830.0 857.1,832.3 859.5,834.6 861.8,836.8 864.4,839.0 867.0,841.1 869.6,842.9 872.2,844.7 875.0,846.4 877.9,848.0 881.0,849.7 884.1,851.1 887.2,852.5 890.6,853.8 893.9,855.1 897.6,856.3 901.4,857.4 905.3,858.5 909.5,859.5 913.9,860.5 918.3,861.4 922.9,862.3 927.9,863.1 938.2,864.6 949.6,866.0 962.0,867.2 975.8,868.2 991.0,869.1" stroke="#000" stroke-width="1.96" fill="none" stroke-linecap="round" stroke-linejoin="round"/>
</svg>
<path d="M557.5,624.2H1010.2V880.8H557.5" stroke="#383838" stroke-width="1.4" fill="none" stroke-linejoin="miter"/>
<line x1="576.65" y1="880.8" x2="576.65" y2="885.4" stroke="#383838" stroke-width="1.4"/>
<line x1="680.25" y1="880.8" x2="680.25" y2="885.4" stroke="#383838" stroke-width="1.4"/>
<line x1="783.85" y1="880.8" x2="783.85" y2="885.4" stroke="#383838" stroke-width="1.4"/>
<line x1="887.45" y1="880.8" x2="887.45" y2="885.4" stroke="#383838" stroke-width="1.4"/>
<line x1="991.05" y1="880.8" x2="991.05" y2="885.4" stroke="#383838" stroke-width="1.4"/>
<text transform="translate(573.5,689.7) scale(1.0,1.0)" font-family="Liberation Sans, Arial, sans-serif" font-weight="bold" font-size="63">h</text>
</g>
<g clip-path="url(#cl2)">
<svg x="1069.3" y="624.2" width="453.45" height="256.6" viewBox="1069.3 624.2 453.45 256.6" overflow="hidden">
<polyline points="1088.6,868.5 1109.1,867.9 1127.3,867.2 1143.1,866.4 1157.6,865.3 1171.1,864.1 1177.5,863.4 1183.8,862.6 1190.0,861.8 1196.0,860.9 1201.7,860.0 1207.1,859.0 1212.3,858.0 1217.0,856.9 1221.4,855.9 1225.5,854.8 1229.4,853.6 1233.0,852.4 1236.4,851.2 1239.5,849.9 1242.6,848.4 1245.5,846.9 1248.1,845.4 1250.7,843.7 1253.0,842.1 1255.3,840.2 1257.7,838.1 1259.7,836.0 1261.5,834.0 1263.4,831.8 1265.2,829.4 1266.7,827.2 1268.3,824.7 1269.8,822.0 1271.4,819.1 1273.0,815.9 1274.5,812.4 1275.8,809.2 1277.1,805.8 1278.4,802.0 1279.7,798.0 1281.0,793.7 1283.3,784.9 1285.4,776.0 1287.5,766.0 1289.5,754.6 1291.6,742.0 1293.2,731.6 1295.0,718.7 1301.5,669.4 1302.8,660.4 1304.1,652.3 1305.4,645.6 1306.1,642.3 1306.7,640.4 1307.4,638.2 1308.0,637.1 1308.5,636.4 1308.7,636.1 1309.2,635.9 1309.5,635.9 1309.8,636.0 1310.0,636.1 1310.5,636.7 1311.1,637.7 1311.8,639.7 1312.4,641.4 1313.1,644.6 1313.9,648.3 1314.7,652.7 1316.0,660.9 1317.3,670.2 1323.5,719.1 1325.3,732.6 1326.9,743.4 1328.7,755.0 1330.8,767.0 1332.6,776.4 1334.7,785.9 1335.7,790.3 1337.0,795.3 1338.0,799.1 1339.3,803.4 1341.7,810.4 1342.9,813.9 1344.2,817.2 1345.5,820.1 1347.1,823.4 1348.4,825.9 1349.9,828.7 1351.5,831.3 1353.1,833.6 1354.6,835.8 1356.4,838.1 1358.2,840.1 1360.3,842.3 1362.4,844.2 1364.5,846.0 1366.8,847.8 1369.1,849.4 1371.5,850.8 1374.1,852.3 1376.7,853.6 1379.5,854.9 1382.6,856.1 1385.7,857.2 1389.1,858.3 1392.5,859.2 1396.1,860.1 1400.0,861.0 1404.1,861.8 1408.3,862.5 1412.7,863.2 1417.4,863.8 1427.7,864.9 1439.4,865.9 1452.4,866.7 1467.1,867.4 1484.0,868.0 1503.4,868.6" stroke="#000" stroke-width="1.96" fill="none" stroke-linecap="round" stroke-linejoin="round"/>
<polyline points="1088.6,867.0 1116.1,865.5 1138.1,864.1 1147.5,863.4 1158.9,862.3 1169.3,861.4 1188.4,859.4 1209.2,857.6 1216.7,857.0 1226.0,856.5 1231.5,856.3 1236.1,856.3 1239.2,856.3 1242.9,856.5 1262.3,857.9 1271.4,858.6 1279.4,859.4 1297.8,861.6 1306.1,862.4 1320.7,863.4 1337.8,864.3 1355.1,865.0 1379.8,866.0 1400.0,866.7 1418.9,867.3 1436.3,867.7 1463.2,868.3 1484.2,868.7 1503.4,868.9" stroke="#00f" stroke-width="1.96" fill="none" stroke-dasharray="12.5 3.1 1.96 3.1" stroke-linejoin="round"/>
<polyline points="1088.6,869.1 1112.0,868.7 1132.2,868.2 1149.8,867.6 1165.1,866.9 1178.8,866.1 1190.8,865.1 1201.4,864.0 1206.3,863.4 1210.7,862.7 1215.1,862.0 1219.3,861.2 1223.2,860.4 1227.1,859.4 1230.4,858.5 1233.8,857.4 1236.9,856.3 1240.0,855.1 1242.9,853.8 1245.7,852.4 1248.3,850.9 1250.9,849.3 1253.2,847.7 1255.6,845.9 1257.7,844.1 1259.7,842.1 1261.8,839.9 1263.6,837.8 1265.4,835.5 1267.0,833.3 1268.5,830.9 1270.1,828.3 1271.7,825.5 1273.2,822.4 1274.8,819.0 1276.1,815.9 1277.4,812.6 1278.7,809.0 1280.0,805.1 1281.2,800.9 1283.6,792.4 1285.7,783.8 1287.7,774.0 1289.8,762.9 1291.9,750.6 1293.4,740.5 1295.2,727.9 1301.7,680.0 1303.0,671.3 1304.3,663.5 1305.6,657.0 1306.4,653.8 1306.9,652.0 1307.7,649.9 1308.2,648.9 1308.7,648.2 1309.0,647.9 1309.5,647.7 1309.8,647.7 1310.0,647.8 1310.3,648.0 1310.8,648.6 1311.3,649.5 1312.1,651.4 1312.6,653.1 1313.4,656.1 1314.2,659.7 1315.0,663.8 1316.2,671.6 1317.5,680.4 1324.0,728.4 1325.8,740.9 1327.4,751.0 1329.2,761.8 1331.3,773.0 1333.1,781.7 1335.2,790.6 1337.5,799.3 1339.8,806.9 1342.2,813.4 1343.5,816.7 1344.8,819.7 1346.1,822.5 1347.6,825.6 1348.9,828.0 1350.5,830.6 1352.0,833.0 1353.6,835.2 1355.1,837.2 1356.9,839.4 1358.8,841.4 1360.8,843.4 1362.9,845.3 1365.0,847.0 1367.3,848.7 1369.7,850.2 1372.0,851.6 1374.6,853.0 1377.2,854.2 1380.0,855.4 1383.1,856.6 1386.2,857.7 1389.6,858.7 1393.0,859.6 1396.6,860.5 1400.5,861.3 1404.7,862.1 1408.8,862.8 1417.9,864.0 1428.2,865.1 1439.6,866.1 1452.6,866.9 1467.4,867.6 1484.2,868.1 1503.4,868.6" stroke="#f00" stroke-width="1.96" fill="none" stroke-dasharray="7.25 3.14" stroke-linejoin="round"/>
</svg>
<rect x="1069.3" y="624.2" width="453.45" height="256.6" stroke="#383838" stroke-width="1.4" fill="none"/>
<line x1="1088.62" y1="880.8" x2="1088.62" y2="885.4" stroke="#383838" stroke-width="1.4"/>
<line x1="1192.33" y1="880.8" x2="1192.33" y2="885.4" stroke="#383838" stroke-width="1.4"/>
<line x1="1296.03" y1="880.8" x2="1296.03" y2="885.4" stroke="#383838" stroke-width="1.4"/>
<line x1="1399.73" y1="880.8" x2="1399.73" y2="885.4" stroke="#383838" stroke-width="1.4"/>
<line x1="1503.43" y1="880.8" x2="1503.43" y2="885.4" stroke="#383838" stroke-width="1.4"/>
<text transform="translate(1085.3,689.7) scale(1.0,1.0)" font-family="Liberation Sans, Arial, sans-serif" font-weight="bold" font-size="63">i</text>
</g>
<g>
<svg x="47.3" y="935.8" width="453.4" height="256.4" viewBox="47.3 935.8 453.4 256.4" overflow="hidden">
<polyline points="66.6,1179.4 90.2,1179.1 110.4,1178.7 127.8,1178.2 142.6,1177.6 155.5,1176.9 166.7,1176.0 176.5,1175.1 181.2,1174.5 185.3,1173.9 189.2,1173.2 193.1,1172.5 196.7,1171.7 200.1,1170.9 203.2,1170.0 206.3,1169.0 209.2,1167.9 211.8,1166.8 214.4,1165.6 216.7,1164.4 219.0,1163.0 221.4,1161.4 223.4,1159.8 225.5,1158.0 227.3,1156.3 229.1,1154.3 231.0,1152.2 232.5,1150.1 234.1,1147.8 235.4,1145.7 236.9,1143.0 238.2,1140.4 239.5,1137.6 240.8,1134.5 242.1,1131.2 243.1,1128.2 244.4,1124.2 245.5,1120.7 246.5,1116.8 247.6,1112.7 248.6,1108.2 249.6,1103.3 251.4,1093.7 253.3,1082.7 255.1,1070.0 256.6,1057.8 257.9,1046.7 259.5,1032.3 264.7,980.8 265.7,971.5 266.7,963.2 267.8,956.4 268.3,953.7 268.8,951.4 269.3,949.6 269.9,948.3 270.1,947.9 270.4,947.6 270.6,947.5 270.9,947.5 271.1,947.6 271.4,947.9 271.7,948.3 272.2,949.5 272.7,951.3 273.2,953.5 273.7,956.3 274.8,963.0 275.8,971.2 276.9,980.4 282.0,1031.5 283.6,1045.8 285.1,1058.9 286.7,1070.9 288.5,1083.2 290.1,1092.6 291.9,1102.1 292.9,1107.0 294.0,1111.5 295.0,1115.7 296.0,1119.5 297.1,1123.1 298.4,1127.1 299.7,1130.8 301.0,1134.1 302.3,1137.1 303.6,1139.9 304.9,1142.4 306.4,1145.2 308.0,1147.6 309.5,1149.9 311.1,1151.9 312.9,1154.0 314.7,1155.9 316.8,1157.9 318.9,1159.6 320.9,1161.2 323.3,1162.7 325.6,1164.1 328.2,1165.4 330.8,1166.6 333.6,1167.8 336.5,1168.8 339.6,1169.8 343.0,1170.7 346.6,1171.6 350.2,1172.4 354.1,1173.1 358.3,1173.8 362.7,1174.4 367.3,1175.0 377.7,1176.0 389.4,1176.8 402.8,1177.5 418.4,1178.1 436.3,1178.6 457.0,1179.1 481.4,1179.4" stroke="#000" stroke-width="1.96" fill="none" stroke-linecap="round" stroke-linejoin="round"/>
<polyline points="66.6,1180.5 481.4,1180.5" stroke="#00f" stroke-width="1.96" fill="none" stroke-dasharray="12.5 3.1 1.96 3.1" stroke-linejoin="round"/>
<polyline points="66.6,1179.6 90.5,1179.3 110.9,1178.9 128.3,1178.5 143.3,1178.0 156.3,1177.4 167.7,1176.6 177.6,1175.8 186.4,1174.7 190.3,1174.1 194.2,1173.5 197.8,1172.8 201.2,1172.0 204.3,1171.2 207.4,1170.3 210.2,1169.4 212.8,1168.4 215.4,1167.3 217.7,1166.2 220.1,1164.9 222.2,1163.6 224.2,1162.2 226.3,1160.6 228.1,1159.0 229.9,1157.3 231.7,1155.3 233.3,1153.4 234.9,1151.3 236.1,1149.4 237.7,1146.9 239.0,1144.5 240.3,1142.0 241.6,1139.1 242.9,1136.0 243.9,1133.2 245.2,1129.5 246.3,1126.2 247.3,1122.6 248.3,1118.7 250.1,1111.0 252.0,1102.1 253.5,1093.4 255.3,1081.8 256.9,1070.5 258.2,1060.2 259.7,1046.9 264.9,998.8 266.0,990.2 266.7,984.4 267.8,977.9 268.3,975.3 268.8,973.1 269.3,971.4 269.9,970.2 270.1,969.8 270.4,969.5 270.6,969.4 270.9,969.4 271.1,969.5 271.4,969.8 271.7,970.2 272.2,971.4 272.7,973.1 273.2,975.2 273.7,977.9 274.8,984.3 275.6,990.1 276.6,998.6 281.8,1046.3 283.3,1059.6 284.6,1069.8 286.2,1081.0 288.0,1092.5 289.6,1101.2 291.4,1110.1 292.4,1114.6 293.4,1118.7 294.5,1122.6 295.5,1126.1 296.6,1129.3 297.9,1133.0 298.9,1135.7 300.2,1138.8 301.5,1141.6 302.8,1144.1 304.1,1146.4 305.6,1149.0 307.2,1151.2 308.7,1153.3 310.3,1155.1 312.1,1157.0 313.9,1158.7 316.0,1160.5 318.1,1162.1 320.1,1163.5 322.5,1164.8 324.8,1166.1 327.1,1167.2 329.7,1168.2 332.6,1169.3 335.4,1170.2 338.6,1171.1 341.9,1171.9 345.6,1172.7 349.2,1173.4 353.1,1174.0 357.2,1174.6 366.3,1175.7 376.7,1176.6 388.6,1177.3 402.1,1178.0 417.6,1178.5 435.8,1178.9 456.8,1179.3 481.4,1179.6" stroke="#f00" stroke-width="1.96" fill="none" stroke-dasharray="7.25 3.14" stroke-linejoin="round"/>
</svg>
<rect x="47.3" y="935.8" width="453.4" height="256.4" stroke="#383838" stroke-width="1.4" fill="none"/>
<line x1="66.6" y1="1192.2" x2="66.6" y2="1196.8" stroke="#383838" stroke-width="1.4"/>
<line x1="170.3" y1="1192.2" x2="170.3" y2="1196.8" stroke="#383838" stroke-width="1.4"/>
<line x1="274" y1="1192.2" x2="274" y2="1196.8" stroke="#383838" stroke-width="1.4"/>
<line x1="377.7" y1="1192.2" x2="377.7" y2="1196.8" stroke="#383838" stroke-width="1.4"/>
<line x1="481.4" y1="1192.2" x2="481.4" y2="1196.8" stroke="#383838" stroke-width="1.4"/>
<text x="66.6" y="1222.2" font-family="DejaVu Sans, sans-serif" font-size="28" text-anchor="middle">-4.0</text>
<text x="170.3" y="1222.2" font-family="DejaVu Sans, sans-serif" font-size="28" text-anchor="middle">-2.0</text>
<text x="274" y="1222.2" font-family="DejaVu Sans, sans-serif" font-size="28" text-anchor="middle">0.0</text>
<text x="377.7" y="1222.2" font-family="DejaVu Sans, sans-serif" font-size="28" text-anchor="middle">2.0</text>
<text x="481.4" y="1222.2" font-family="DejaVu Sans, sans-serif" font-size="28" text-anchor="middle">4.0</text>
<text x="275" y="1261" font-family="DejaVu Sans, sans-serif" font-size="35.2" text-anchor="middle">Δ<tspan font-size="24.6" dy="6">c</tspan><tspan dy="-6">/2</tspan><tspan font-style="italic">π</tspan> (MHz)</text>
<text transform="translate(68.3,1001.3) scale(1.0,1.0)" font-family="Liberation Sans, Arial, sans-serif" font-weight="bold" font-size="63">j</text>
<text transform="translate(33.9,1062.7) rotate(-90)" font-family="DejaVu Sans, sans-serif" font-size="35.2" text-anchor="middle">T(<tspan font-style="italic">ω</tspan>) (Hz<tspan font-size="24.6" dy="-14">−2</tspan><tspan dy="14">)</tspan></text>
</g>
<g clip-path="url(#cl1)">
<svg x="557.5" y="935.8" width="452.7" height="256.4" viewBox="557.5 935.8 452.7 256.4" overflow="hidden">
<polyline points="576.7,1179.3 600.2,1178.9 620.4,1178.5 637.8,1178.0 652.8,1177.4 666.0,1176.6 677.4,1175.8 687.5,1174.7 692.2,1174.1 696.3,1173.5 700.5,1172.8 704.3,1172.1 708.0,1171.3 711.3,1170.4 714.7,1169.4 717.8,1168.4 720.7,1167.4 723.5,1166.2 726.1,1164.9 728.4,1163.7 730.8,1162.3 733.1,1160.7 735.2,1159.1 737.2,1157.4 739.3,1155.4 741.1,1153.5 742.9,1151.3 744.5,1149.3 746.0,1147.0 747.6,1144.5 749.1,1141.8 750.4,1139.3 751.7,1136.5 753.0,1133.5 754.3,1130.2 755.6,1126.5 756.9,1122.5 758.0,1119.1 760.0,1111.2 762.1,1102.0 763.9,1092.7 765.7,1082.1 767.5,1069.9 769.1,1058.3 770.6,1045.5 772.2,1031.6 777.6,979.7 778.7,970.8 779.7,963.0 780.7,956.5 781.3,953.8 781.8,951.5 782.3,949.8 782.8,948.5 783.3,947.7 783.6,947.5 783.9,947.5 784.1,947.5 784.4,947.7 784.9,948.5 785.4,949.8 785.9,951.5 786.4,953.8 787.0,956.5 788.0,963.0 789.0,970.8 790.1,979.7 795.5,1031.6 797.1,1045.5 798.6,1058.3 800.2,1069.9 802.0,1082.1 803.8,1092.7 805.6,1102.0 807.7,1111.2 809.8,1119.1 810.8,1122.5 812.1,1126.5 813.4,1130.2 814.7,1133.5 816.0,1136.5 817.3,1139.3 818.6,1141.8 820.1,1144.5 821.7,1147.0 823.2,1149.3 824.8,1151.3 826.6,1153.5 828.4,1155.4 830.5,1157.4 832.5,1159.1 834.6,1160.7 836.9,1162.3 839.3,1163.7 841.6,1164.9 844.2,1166.2 847.0,1167.4 849.9,1168.4 853.0,1169.4 856.4,1170.4 859.7,1171.3 863.4,1172.1 867.2,1172.8 871.4,1173.5 875.5,1174.1 880.2,1174.7 890.3,1175.8 901.7,1176.6 914.9,1177.4 929.9,1178.0 947.3,1178.5 967.5,1178.9 991.0,1179.3" stroke="#000" stroke-width="1.96" fill="none" stroke-linecap="round" stroke-linejoin="round"/>
<polyline points="576.7,1180.5 991.0,1180.5" stroke="#00f" stroke-width="1.96" fill="none" stroke-dasharray="12.5 3.1 1.96 3.1" stroke-linejoin="round"/>
<polyline points="576.7,1179.5 600.5,1179.2 620.7,1178.8 638.0,1178.3 653.1,1177.8 666.3,1177.2 677.7,1176.4 687.8,1175.5 696.6,1174.4 700.7,1173.8 704.6,1173.2 708.2,1172.5 711.8,1171.7 715.0,1170.9 718.1,1170.0 720.9,1169.1 723.8,1168.0 726.4,1167.0 728.7,1165.9 731.0,1164.7 733.3,1163.3 735.4,1161.9 737.5,1160.4 739.6,1158.6 741.4,1156.9 743.2,1155.0 744.7,1153.3 746.3,1151.3 747.8,1149.1 749.4,1146.7 750.7,1144.4 752.0,1142.0 753.3,1139.3 754.6,1136.4 755.9,1133.2 757.2,1129.6 758.2,1126.6 760.3,1119.6 762.4,1111.4 764.2,1103.1 766.0,1093.6 767.8,1082.8 769.3,1072.4 770.6,1062.9 772.2,1050.7 777.6,1004.7 778.7,996.8 779.7,989.8 780.7,983.9 781.3,981.6 781.8,979.6 782.3,978.0 782.8,976.8 783.3,976.1 783.6,975.9 783.9,975.9 784.1,975.9 784.4,976.1 784.9,976.8 785.4,978.0 785.9,979.6 786.4,981.6 787.0,983.9 788.0,989.8 789.0,996.8 790.1,1004.7 795.5,1050.7 797.1,1062.9 798.4,1072.4 799.9,1082.8 801.7,1093.6 803.5,1103.1 805.3,1111.4 807.4,1119.6 809.5,1126.6 810.5,1129.6 811.8,1133.2 813.1,1136.4 814.4,1139.3 815.7,1142.0 817.0,1144.4 818.3,1146.7 819.9,1149.1 821.4,1151.3 823.0,1153.3 824.5,1155.0 826.3,1156.9 828.1,1158.6 830.2,1160.4 832.3,1161.9 834.4,1163.3 836.7,1164.7 839.0,1165.9 841.3,1167.0 843.9,1168.0 846.8,1169.1 849.6,1170.0 852.7,1170.9 855.9,1171.7 859.5,1172.5 863.1,1173.2 867.0,1173.8 871.1,1174.4 879.9,1175.5 890.0,1176.4 901.4,1177.2 914.6,1177.8 929.7,1178.3 947.0,1178.8 967.2,1179.2 991.0,1179.5" stroke="#f00" stroke-width="1.96" fill="none" stroke-dasharray="7.25 3.14" stroke-linejoin="round"/>
</svg>
<path d="M557.5,935.8H1010.2V1192.2H557.5" stroke="#383838" stroke-width="1.4" fill="none" stroke-linejoin="miter"/>
<line x1="576.65" y1="1192.2" x2="576.65" y2="1196.8" stroke="#383838" stroke-width="1.4"/>
<line x1="680.25" y1="1192.2" x2="680.25" y2="1196.8" stroke="#383838" stroke-width="1.4"/>
<line x1="783.85" y1="1192.2" x2="783.85" y2="1196.8" stroke="#383838" stroke-width="1.4"/>
<line x1="887.45" y1="1192.2" x2="887.45" y2="1196.8" stroke="#383838" stroke-width="1.4"/>
<line x1="991.05" y1="1192.2" x2="991.05" y2="1196.8" stroke="#383838" stroke-width="1.4"/>
<text x="576.65" y="1222.2" font-family="DejaVu Sans, sans-serif" font-size="28" text-anchor="middle">-4.0</text>
<text x="680.25" y="1222.2" font-family="DejaVu Sans, sans-serif" font-size="28" text-anchor="middle">-2.0</text>
<text x="783.85" y="1222.2" font-family="DejaVu Sans, sans-serif" font-size="28" text-anchor="middle">0.0</text>
<text x="887.45" y="1222.2" font-family="DejaVu Sans, sans-serif" font-size="28" text-anchor="middle">2.0</text>
<text x="991.05" y="1222.2" font-family="DejaVu Sans, sans-serif" font-size="28" text-anchor="middle">4.0</text>
<text x="784.85" y="1261" font-family="DejaVu Sans, sans-serif" font-size="35.2" text-anchor="middle">Δ<tspan font-size="24.6" dy="6">c</tspan><tspan dy="-6">/2</tspan><tspan font-style="italic">π</tspan> (MHz)</text>
<text transform="translate(573.5,1001.3) scale(1.0,1.0)" font-family="Liberation Sans, Arial, sans-serif" font-weight="bold" font-size="63">k</text>
</g>
<g clip-path="url(#cl2)">
<svg x="1069.3" y="935.8" width="453.45" height="256.4" viewBox="1069.3 935.8 453.45 256.4" overflow="hidden">
<polyline points="1088.6,1179.4 1113.0,1179.1 1133.7,1178.6 1151.6,1178.1 1167.2,1177.5 1180.7,1176.8 1192.3,1176.0 1202.7,1175.0 1207.4,1174.4 1211.8,1173.8 1215.9,1173.1 1219.8,1172.4 1223.4,1171.6 1227.1,1170.7 1230.4,1169.8 1233.5,1168.8 1236.4,1167.8 1239.2,1166.6 1241.8,1165.4 1244.4,1164.1 1246.8,1162.7 1249.1,1161.2 1251.2,1159.6 1253.2,1157.9 1255.3,1155.9 1257.1,1154.0 1259.0,1151.9 1260.5,1149.9 1262.1,1147.6 1263.6,1145.2 1265.2,1142.4 1266.5,1139.9 1267.8,1137.1 1269.1,1134.1 1270.4,1130.8 1271.7,1127.1 1273.0,1123.1 1274.0,1119.5 1275.0,1115.7 1276.1,1111.5 1277.1,1107.0 1278.1,1102.1 1280.0,1092.6 1281.5,1083.2 1283.3,1070.9 1284.9,1058.9 1286.4,1045.8 1288.0,1031.5 1293.2,980.4 1294.2,971.2 1295.2,963.0 1296.3,956.3 1296.8,953.5 1297.3,951.3 1297.8,949.5 1298.4,948.3 1298.6,947.9 1298.9,947.6 1299.1,947.5 1299.4,947.5 1299.7,947.6 1299.9,947.9 1300.2,948.3 1300.7,949.6 1301.2,951.4 1301.7,953.7 1302.2,956.4 1303.3,963.2 1304.3,971.5 1305.4,980.8 1310.5,1032.3 1312.1,1046.7 1313.4,1057.8 1315.0,1070.0 1316.8,1082.7 1318.6,1093.7 1320.4,1103.3 1321.4,1108.2 1322.5,1112.7 1323.5,1116.8 1324.5,1120.7 1325.6,1124.2 1326.9,1128.2 1327.9,1131.2 1329.2,1134.5 1330.5,1137.6 1331.8,1140.4 1333.1,1143.0 1334.7,1145.7 1335.9,1147.8 1337.5,1150.1 1339.1,1152.2 1340.9,1154.3 1342.7,1156.3 1344.5,1158.0 1346.6,1159.8 1348.7,1161.4 1351.0,1163.0 1353.3,1164.4 1355.7,1165.6 1358.2,1166.8 1360.8,1167.9 1363.7,1169.0 1366.8,1170.0 1369.9,1170.9 1373.3,1171.7 1376.9,1172.5 1380.8,1173.2 1384.7,1173.9 1388.8,1174.5 1393.5,1175.1 1403.4,1176.0 1414.5,1176.9 1427.5,1177.6 1442.2,1178.2 1459.6,1178.7 1479.8,1179.1 1503.4,1179.4" stroke="#000" stroke-width="1.96" fill="none" stroke-linecap="round" stroke-linejoin="round"/>
<polyline points="1088.6,1180.5 1503.4,1180.5" stroke="#00f" stroke-width="1.96" fill="none" stroke-dasharray="12.5 3.1 1.96 3.1" stroke-linejoin="round"/>
<polyline points="1088.6,1179.6 1113.3,1179.3 1134.3,1178.9 1152.4,1178.5 1168.0,1178.0 1181.4,1177.3 1193.4,1176.6 1203.7,1175.7 1212.8,1174.6 1217.0,1174.0 1220.8,1173.4 1224.5,1172.7 1228.1,1171.9 1231.5,1171.1 1234.6,1170.2 1237.4,1169.3 1240.3,1168.2 1242.9,1167.2 1245.2,1166.1 1247.5,1164.8 1249.9,1163.5 1252.0,1162.1 1254.0,1160.5 1256.1,1158.7 1257.9,1157.0 1259.7,1155.1 1261.3,1153.3 1262.8,1151.2 1264.4,1149.0 1266.0,1146.4 1267.2,1144.1 1268.5,1141.6 1269.8,1138.8 1271.1,1135.7 1272.2,1133.0 1273.5,1129.3 1274.5,1126.1 1275.5,1122.6 1276.6,1118.7 1277.6,1114.6 1278.7,1110.1 1280.5,1101.2 1282.0,1092.5 1283.8,1081.0 1285.4,1069.8 1286.7,1059.6 1288.2,1046.3 1293.4,998.6 1294.5,990.1 1295.2,984.3 1296.3,977.9 1296.8,975.2 1297.3,973.1 1297.8,971.4 1298.4,970.2 1298.6,969.8 1298.9,969.5 1299.1,969.4 1299.4,969.4 1299.7,969.5 1299.9,969.8 1300.2,970.2 1300.7,971.4 1301.2,973.1 1301.7,975.3 1302.2,977.9 1303.3,984.4 1304.1,990.2 1305.1,998.8 1310.3,1046.9 1311.8,1060.2 1313.1,1070.5 1314.7,1081.8 1316.5,1093.4 1318.1,1102.1 1319.9,1111.0 1321.7,1118.7 1322.7,1122.6 1323.8,1126.2 1324.8,1129.5 1326.1,1133.2 1327.1,1136.0 1328.4,1139.1 1329.7,1142.0 1331.0,1144.5 1332.3,1146.9 1333.9,1149.4 1335.2,1151.3 1336.7,1153.4 1338.3,1155.3 1340.1,1157.3 1341.9,1159.0 1343.7,1160.6 1345.8,1162.2 1347.9,1163.6 1349.9,1164.9 1352.3,1166.2 1354.6,1167.3 1357.2,1168.4 1359.8,1169.4 1362.7,1170.3 1365.8,1171.2 1368.9,1172.0 1372.2,1172.8 1375.9,1173.5 1379.8,1174.1 1383.7,1174.7 1392.5,1175.8 1402.3,1176.6 1413.7,1177.4 1426.7,1178.0 1441.7,1178.5 1459.1,1178.9 1479.6,1179.3 1503.4,1179.6" stroke="#f00" stroke-width="1.96" fill="none" stroke-dasharray="7.25 3.14" stroke-linejoin="round"/>
</svg>
<rect x="1069.3" y="935.8" width="453.45" height="256.4" stroke="#383838" stroke-width="1.4" fill="none"/>
<line x1="1088.62" y1="1192.2" x2="1088.62" y2="1196.8" stroke="#383838" stroke-width="1.4"/>
<line x1="1192.33" y1="1192.2" x2="1192.33" y2="1196.8" stroke="#383838" stroke-width="1.4"/>
<line x1="1296.03" y1="1192.2" x2="1296.03" y2="1196.8" stroke="#383838" stroke-width="1.4"/>
<line x1="1399.73" y1="1192.2" x2="1399.73" y2="1196.8" stroke="#383838" stroke-width="1.4"/>
<line x1="1503.43" y1="1192.2" x2="1503.43" y2="1196.8" stroke="#383838" stroke-width="1.4"/>
<text x="1088.62" y="1222.2" font-family="DejaVu Sans, sans-serif" font-size="28" text-anchor="middle">-4.0</text>
<text x="1192.33" y="1222.2" font-family="DejaVu Sans, sans-serif" font-size="28" text-anchor="middle">-2.0</text>
<text x="1296.03" y="1222.2" font-family="DejaVu Sans, sans-serif" font-size="28" text-anchor="middle">0.0</text>
<text x="1399.73" y="1222.2" font-family="DejaVu Sans, sans-serif" font-size="28" text-anchor="middle">2.0</text>
<text x="1503.43" y="1222.2" font-family="DejaVu Sans, sans-serif" font-size="28" text-anchor="middle">4.0</text>
<text x="1297.03" y="1261" font-family="DejaVu Sans, sans-serif" font-size="35.2" text-anchor="middle">Δ<tspan font-size="24.6" dy="6">c</tspan><tspan dy="-6">/2</tspan><tspan font-style="italic">π</tspan> (MHz)</text>
<text transform="translate(1085.3,1001.3) scale(1.0,1.0)" font-family="Liberation Sans, Arial, sans-serif" font-weight="bold" font-size="63">l</text>
</g>
</svg></body></html>
